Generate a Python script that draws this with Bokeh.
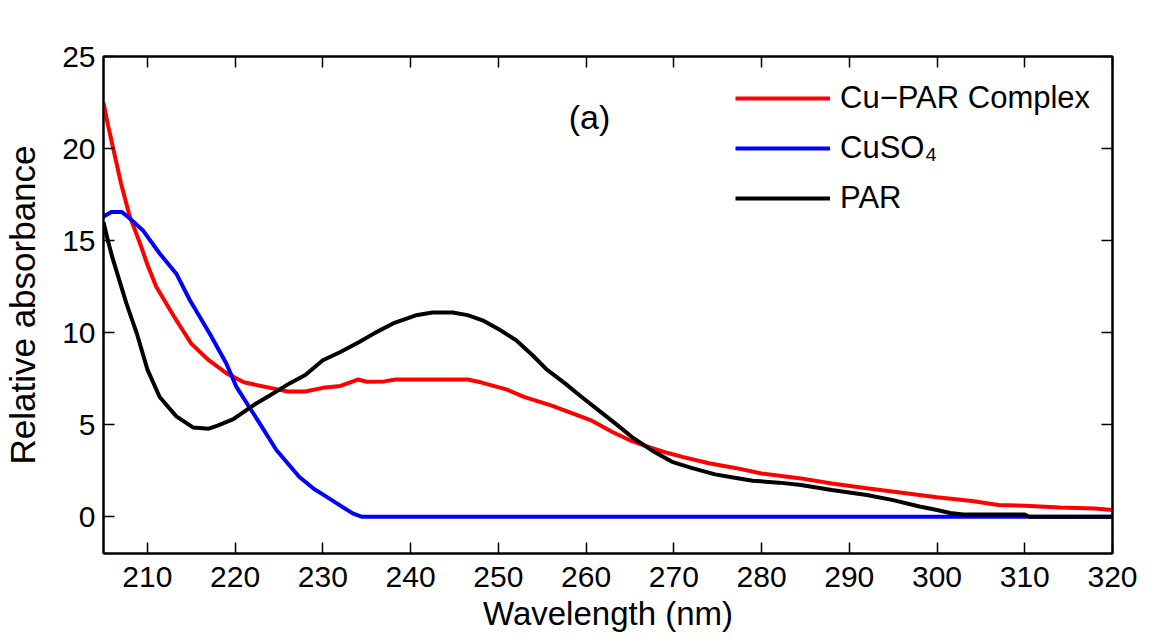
from bokeh.plotting import figure
from bokeh.models import LinearAxis, Range1d, Legend, LegendItem, FixedTicker, Label
from bokeh.embed import file_html
from bokeh.resources import INLINE

# ---- data ----
cupar_x = [205.0, 205.5, 207.0, 208.0, 209.2, 210.0, 211.0, 213.0, 215.0, 217.0, 219.0, 221.0,
           224.0, 226.0, 228.0, 230.0, 232.0, 234.0, 235.0, 237.0, 238.3, 246.5, 248.0, 251.0,
           253.0, 256.0, 258.0, 260.5, 263.0, 265.0, 267.0, 269.0, 271.0, 274.0, 277.0, 280.0,
           284.5, 288.0, 292.0, 296.0, 300.0, 304.0, 307.0, 310.0, 314.0, 318.0, 320.0]
cupar_y = [22.5, 21.3, 18.1, 16.3, 14.8, 13.7, 12.5, 10.9, 9.4, 8.5, 7.8, 7.3,
           7.0, 6.8, 6.8, 7.0, 7.1, 7.45, 7.33, 7.35, 7.45, 7.45, 7.3, 6.9,
           6.5, 6.05, 5.7, 5.25, 4.6, 4.15, 3.8, 3.5, 3.25, 2.9, 2.65, 2.35,
           2.08, 1.8, 1.54, 1.3, 1.05, 0.85, 0.63, 0.6, 0.5, 0.45, 0.36]

cuso4_x = [205.0, 205.9, 207.1, 208.0, 209.5, 211.4, 213.3, 214.85, 217.1, 219.0, 220.15, 222.8,
           224.7, 227.3, 229.0, 230.4, 232.0, 233.4, 234.4, 320.0]
cuso4_y = [16.3, 16.55, 16.55, 16.2, 15.55, 14.3, 13.2, 11.76, 9.95, 8.32, 7.05, 5.07,
           3.62, 2.17, 1.5, 1.09, 0.6, 0.18, 0.0, 0.0]

par_x = [205.0, 205.5, 206.0, 207.6, 208.8, 210.0, 211.4, 213.3, 215.2, 217.0, 218.0, 219.8,
         222.4, 224.0, 226.2, 228.0, 230.0, 232.0, 234.2, 236.0, 238.0, 240.6, 242.5, 244.8,
         246.5, 248.2, 250.0, 252.0, 253.9, 255.5, 257.6, 259.5, 261.4, 263.5, 265.2, 267.5,
         269.8, 272.0, 274.7, 276.6, 279.0, 282.0, 284.5, 288.0, 292.0, 295.0, 298.0, 300.0,
         301.5, 303.0, 310.0, 310.5, 320.0]
par_y = [16.0, 15.0, 14.1, 11.6, 9.95, 8.0, 6.5, 5.45, 4.85, 4.78, 4.95, 5.3,
         6.15, 6.6, 7.24, 7.7, 8.5, 8.95, 9.5, 10.0, 10.5, 10.94, 11.09, 11.09,
         10.95, 10.67, 10.2, 9.6, 8.77, 8.0, 7.24, 6.5, 5.79, 5.0, 4.34, 3.6,
         2.98, 2.65, 2.3, 2.14, 1.95, 1.85, 1.72, 1.45, 1.18, 0.9, 0.55, 0.36,
         0.2, 0.12, 0.12, 0.0, 0.0]

x_ticks = [210, 220, 230, 240, 250, 260, 270, 280, 290, 300, 310, 320]
y_ticks = [0, 5, 10, 15, 20, 25]
series_labels = ["Cu\u2212PAR Complex", "CuSO\u2084", "PAR"]
series_colors = ["#ff0000", "#0000ff", "#000000"]

FONT = "Liberation Sans"

p = figure(width=1150, height=643, x_range=Range1d(205, 320), y_range=Range1d(-2, 25),
           output_backend="svg", toolbar_location=None,
           min_border_left=100, min_border_right=38, min_border_top=56, min_border_bottom=90)
p.background_fill_color = "white"
p.border_fill_color = "white"
p.grid.visible = False
p.outline_line_color = "black"
p.outline_line_width = 2

for ax, ticks in ((p.xaxis[0], x_ticks), (p.yaxis[0], y_ticks)):
    ax.ticker = FixedTicker(ticks=ticks)
    ax.minor_tick_line_color = None
    ax.major_tick_in = 11
    ax.major_tick_out = 0
    ax.major_tick_line_width = 1.5
    ax.axis_line_width = 2
    ax.major_label_text_font = FONT
    ax.major_label_text_font_size = "30px"
    ax.major_label_text_color = "black"
    ax.axis_label_text_font = FONT
    ax.axis_label_text_font_style = "normal"
    ax.axis_label_text_color = "black"

p.xaxis.axis_label = "Wavelength (nm)"
p.yaxis.axis_label = "Relative absorbance"
p.xaxis.axis_label_text_font_size = "33px"
p.yaxis.axis_label_text_font_size = "35px"
p.xaxis.major_label_standoff = 13
p.xaxis.axis_label_standoff = 5
p.yaxis.major_label_standoff = 8
p.yaxis.axis_label_standoff = 17

for loc, ticks in (("above", x_ticks), ("right", y_ticks)):
    ax = LinearAxis(ticker=FixedTicker(ticks=ticks))
    ax.minor_tick_line_color = None
    ax.major_tick_in = 11
    ax.major_tick_out = 0
    ax.major_tick_line_width = 1.5
    ax.axis_line_width = 2
    ax.major_label_overrides = {t: "" for t in ticks}
    ax.major_label_standoff = 0
    p.add_layout(ax, loc)

r1 = p.line(cupar_x, cupar_y, line_color=series_colors[0], line_width=4)
r2 = p.line(cuso4_x, cuso4_y, line_color=series_colors[1], line_width=4)
r3 = p.line(par_x, par_y, line_color=series_colors[2], line_width=4)

legend = Legend(items=[LegendItem(label=series_labels[0], renderers=[r1]),
                       LegendItem(label=series_labels[1], renderers=[r2]),
                       LegendItem(label=series_labels[2], renderers=[r3])],
                location=(632, 335))
legend.border_line_color = None
legend.background_fill_alpha = 0
legend.label_text_font = FONT
legend.label_text_font_size = "31px"
legend.label_text_color = "black"
legend.glyph_width = 95
legend.glyph_height = 40
legend.label_height = 40
legend.spacing = 10
legend.padding = 0
legend.margin = 0
legend.label_standoff = 10
p.add_layout(legend)

p.add_layout(Label(x=260.4, y=21.7, text="(a)", text_align="center", text_baseline="middle",
                   text_font=FONT, text_font_size="34px", text_color="black"))

open("out.html", "w").write(file_html(p, INLINE))
